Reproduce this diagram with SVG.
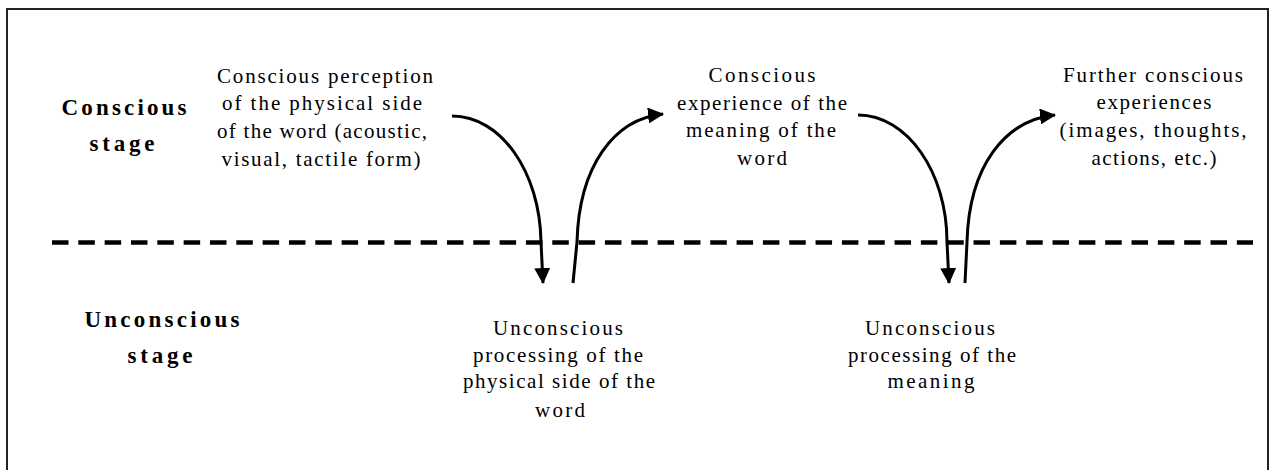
<svg xmlns="http://www.w3.org/2000/svg" width="1270" height="470" viewBox="0 0 1270 470">
<defs>
<style>
.t{font-family:"Liberation Serif","Times New Roman",serif;font-size:21px;fill:#000;text-anchor:middle}
.b{font-family:"Liberation Serif","Times New Roman",serif;font-size:23px;font-weight:bold;fill:#000;text-anchor:middle}
.c{fill:none;stroke:#000;stroke-width:3}
</style>
<marker id="ah" viewBox="0 0 16 16" refX="15" refY="8" markerWidth="16" markerHeight="16" markerUnits="userSpaceOnUse" orient="auto">
<path d="M0,0 L16,8 L0,16 Z" fill="#000"/>
</marker>
</defs>
<rect width="1270" height="470" fill="#fff"/>
<rect x="7" y="9" width="1261" height="480" fill="none" stroke="#222" stroke-width="2"/>
<line id="boundary" x1="52" y1="242.5" x2="1253" y2="242.5" stroke="#000" stroke-width="4.5" stroke-dasharray="16.5 9.83"/>

<g id="label-conscious">
<text class="b" x="124" y="115" textLength="125" lengthAdjust="spacing">Conscious</text>
<text class="b" x="122" y="151" textLength="65" lengthAdjust="spacing">stage</text>
</g>
<g id="label-unconscious">
<text class="b" x="162" y="327" textLength="155" lengthAdjust="spacing">Unconscious</text>
<text class="b" x="160" y="363" textLength="65" lengthAdjust="spacing">stage</text>
</g>

<g id="n1">
<text class="t" x="325" y="83" textLength="216" lengthAdjust="spacing">Conscious perception</text>
<text class="t" x="322" y="110" textLength="200" lengthAdjust="spacing">of the physical side</text>
<text class="t" x="322" y="138" textLength="210" lengthAdjust="spacing">of the word (acoustic,</text>
<text class="t" x="321" y="166" textLength="199" lengthAdjust="spacing">visual, tactile form)</text>
</g>
<g id="n2">
<text class="t" x="558" y="335" textLength="130" lengthAdjust="spacing">Unconscious</text>
<text class="t" x="558" y="362" textLength="170" lengthAdjust="spacing">processing of the</text>
<text class="t" x="559" y="388" textLength="192" lengthAdjust="spacing">physical side of the</text>
<text class="t" x="560" y="417" textLength="50" lengthAdjust="spacing">word</text>
</g>
<g id="n3">
<text class="t" x="762" y="82" textLength="107" lengthAdjust="spacing">Conscious</text>
<text class="t" x="762" y="110" textLength="170" lengthAdjust="spacing">experience of the</text>
<text class="t" x="761" y="137" textLength="150" lengthAdjust="spacing">meaning of the</text>
<text class="t" x="762" y="165" textLength="50" lengthAdjust="spacing">word</text>
</g>
<g id="n4">
<text class="t" x="930" y="335" textLength="130" lengthAdjust="spacing">Unconscious</text>
<text class="t" x="932" y="362" textLength="168" lengthAdjust="spacing">processing of the</text>
<text class="t" x="931" y="388" textLength="87" lengthAdjust="spacing">meaning</text>
</g>
<g id="n5">
<text class="t" x="1153" y="82" textLength="180" lengthAdjust="spacing">Further conscious</text>
<text class="t" x="1154" y="109" textLength="115" lengthAdjust="spacing">experiences</text>
<text class="t" x="1153" y="137" textLength="187" lengthAdjust="spacing">(images, thoughts,</text>
<text class="t" x="1154" y="165" textLength="125" lengthAdjust="spacing">actions, etc.)</text>
</g>

<g id="connectors">
<path class="c" d="M452,116 C501,116 540,172 541,242 L543,283" marker-end="url(#ah)"/>
<path class="c" d="M573,283 L577,242 C579,166 614,119 663,114" marker-end="url(#ah)"/>
<path class="c" d="M858,115 C907,115 947,172 947,242 L949,283" marker-end="url(#ah)"/>
<path class="c" d="M965,283 L967,242 C969,166 1005,120 1055,115" marker-end="url(#ah)"/>
</g>
</svg>
